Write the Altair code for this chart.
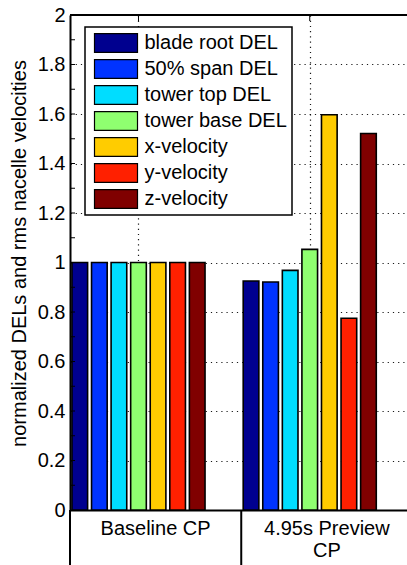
import altair as alt
import pandas as pd

# ---- data -------------------------------------------------------------
series = ["blade root DEL", "50% span DEL", "tower top DEL", "tower base DEL",
          "x-velocity", "y-velocity", "z-velocity"]
colors = ["#00008F", "#0033FF", "#00DDFF", "#8FFF70", "#FFCC00", "#FF2000", "#800000"]
groups = ["Baseline CP", "4.95s Preview CP"]
group_labels = ["Baseline CP", "4.95s Preview\nCP"]
baseline_cp = [1.0, 1.0, 1.0, 1.0, 1.0, 1.0, 1.0]
preview_cp = [0.925, 0.921, 0.968, 1.053, 1.597, 0.775, 1.521]
y_ticks = [round(0.1 * i, 1) for i in range(21)]

# ---- grouped-bar layout (group k is centred at x = k + 1) -------------
n = len(series)
pitch = 0.8 / n
bar_w = 0.8 * pitch
x_min, x_max = 0.6, 2.568
col_edges = [0.6, 1.6, 2.6]
PLOT_W, PLOT_H = 337, 495
FONT = "Liberation Sans"
GRID = dict(grid=True, gridColor="#000000", gridOpacity=0.9, gridDash=[1.2, 4], gridWidth=1.2)

rows = []
for g, (name, vals) in enumerate(zip(groups, [baseline_cp, preview_cp])):
    for i, (s, v) in enumerate(zip(series, vals)):
        c = g + 1 + (i - (n - 1) / 2) * pitch
        rows.append({"group": name, "series": s, "value": v,
                     "x_lo": c - bar_w / 2, "x_hi": c + bar_w / 2})
bars_df = pd.DataFrame(rows)

xscale = alt.Scale(domain=[x_min, x_max], nice=False, zero=False)
yscale = alt.Scale(domain=[0, 2], nice=False)

bars = alt.Chart(bars_df).mark_bar(stroke="black", strokeWidth=1.6, opacity=1).encode(
    x=alt.X("x_lo:Q", scale=xscale,
            axis=alt.Axis(values=[1, 2], labels=False, ticks=False, domain=True,
                          domainColor="black", domainWidth=2, title=None, **GRID)),
    x2="x_hi:Q",
    y=alt.Y("value:Q", scale=yscale,
            axis=alt.Axis(values=y_ticks,
                          labelExpr="(round(datum.value*10) % 2 == 0) ? format(datum.value, '~g') : ''",
                          ticks=False, labelPadding=5, labelFont=FONT, labelFontSize=20,
                          labelColor="black", domain=True, domainColor="black", domainWidth=2,
                          title="normalized DELs and rms nacelle velocities",
                          titleFont=FONT, titleFontSize=20, titleFontWeight="normal",
                          titleColor="black", titleX=-45, titleY=238, titleAngle=270,
                          titleBaseline="alphabetic", titleAlign="center", **GRID)),
    y2=alt.datum(0),
    color=alt.Color("series:N", scale=alt.Scale(domain=series, range=colors),
                    legend=alt.Legend(title=None, orient="none", legendX=15, legendY=12,
                                      direction="vertical",
                                      symbolType="M-1,-0.44H1V0.44H-1Z", symbolSize=1849,
                                      symbolStrokeColor="black", symbolStrokeWidth=1.2,
                                      symbolOpacity=1, symbolOffset=3.5, labelOffset=6,
                                      labelFont=FONT, labelFontSize=20, labelColor="black",
                                      labelLimit=400, clipHeight=22, rowPadding=4, padding=5,
                                      strokeColor="black", fillColor="white")),
)

# inward tick marks on the left axis
ytick_df = pd.DataFrame({"v": y_ticks[1:-1]})
yticks = alt.Chart(ytick_df).mark_rule(color="black", strokeWidth=1).encode(
    y=alt.Y("v:Q", scale=yscale),
    x=alt.value(0), x2=alt.value(5),
)

# top frame line and its inward ticks at the group centres
one = pd.DataFrame({"k": [0]})
top_line = alt.Chart(one).mark_rule(color="black", strokeWidth=2).encode(
    x=alt.value(0), x2=alt.value(PLOT_W), y=alt.value(0),
)
xt_df = pd.DataFrame({"g": [1, 2]})
top_ticks = alt.Chart(xt_df).mark_rule(color="black", strokeWidth=1).encode(
    x=alt.X("g:Q", scale=xscale),
    y=alt.value(0), y2=alt.value(6),
)

# category table under the axis
sep_df = pd.DataFrame({"e": col_edges[:2]})
seps = alt.Chart(sep_df).mark_rule(color="black", strokeWidth=2).encode(
    x=alt.X("e:Q", scale=xscale),
    y=alt.value(PLOT_H), y2=alt.value(PLOT_H + 60),
)
lab_df = pd.DataFrame({
    "label": group_labels,
    "xc": [(col_edges[i] + col_edges[i + 1]) / 2 for i in range(len(groups))],
})
labels = alt.Chart(lab_df).mark_text(font=FONT, fontSize=20, color="black", align="center",
                                     baseline="alphabetic", lineBreak="\n",
                                     lineHeight=22).encode(
    x=alt.X("xc:Q", scale=xscale),
    y=alt.value(PLOT_H + 25),
    text="label:N",
)

chart = alt.layer(bars, yticks, top_line, top_ticks, seps, labels).properties(
    width=PLOT_W, height=PLOT_H,
    autosize=alt.AutoSizeParams(type="none"),
    padding={"left": 70, "top": 15, "right": 0, "bottom": 55},
    background="white",
).configure_view(stroke=None).configure_legend(strokeWidth=1.5)

chart.save("out.html", embed_options={"renderer": "svg", "actions": False})
